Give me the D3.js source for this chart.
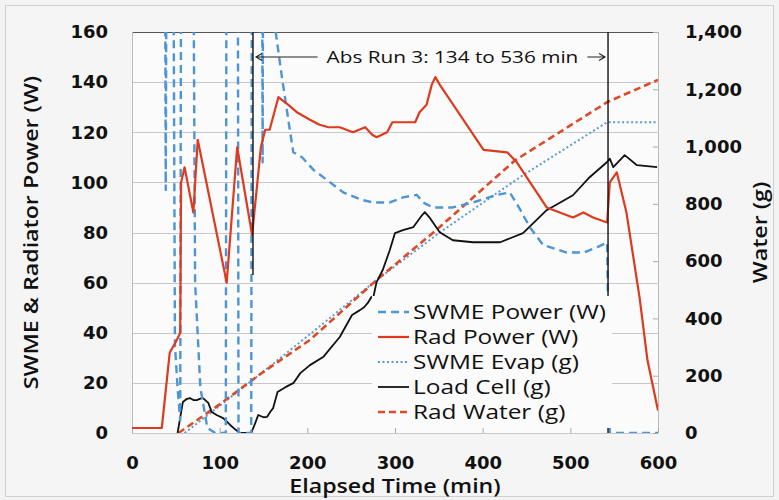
<!DOCTYPE html>
<html>
<head>
<meta charset="utf-8">
<script src="https://cdn.jsdelivr.net/npm/d3@7"></script>
<style>
	body { margin: 0; background: #f3f3f3; }
	svg { display: block; }
	.tick-label { font-family: "DejaVu Sans", sans-serif; font-weight: bold; font-size: 18px; fill: #111; }
	.axis-title { font-family: "Open Sans", sans-serif; font-weight: 600; font-size: 19px; fill: #111; }
	.legend-label { font-family: "Open Sans", sans-serif; font-size: 20px; fill: #111; }
	.note { font-family: "Open Sans", sans-serif; font-size: 17px; fill: #111; }
</style>
</head>
<body>
<svg id="chart" width="779" height="500"></svg>
<script>
// Tick values for each axis
var timeTicks = [0, 100, 200, 300, 400, 500, 600],
	powerTicks = [0, 20, 40, 60, 80, 100, 120, 140, 160],
	waterTicks = [0, 200, 400, 600, 800, 1000, 1200, 1400];

// [minutes, W] -- SWME power runs off the top early on, clipped at 160
var swmePower = [[36, 400], [38.5, 97], [41, 400], [45, 400], [49, 35], [52, 18], [55, 5],
	[57, 400], [67, 400], [72, 60], [78, 18], [86, 2], [95, 0], [107, 0], [108.5, 400],
	[120, 400], [121.5, 0], [136, 0], [137.5, 400], [147, 400], [149, 108], [151, 400],
	[160, 170], [171, 142], [180, 121], [184, 112], [194, 110], [207, 105], [226, 100],
	[241, 96], [262, 93], [275, 92], [294, 92], [309, 94], [325, 95], [332, 92], [343, 90],
	[366, 90], [389, 92], [416, 95], [431, 96], [443, 89], [454, 82], [469, 75], [496, 72],
	[515, 72], [530, 74], [542, 76], [545, 0], [600, 0]];

var radPower = [[0, 2], [34, 2], [43, 32], [51, 37], [55, 40], [56, 100], [60, 106], [70, 88],
	[75, 117], [108, 60], [120, 114], [137, 79], [147, 114], [152, 121], [157, 121], [167, 134],
	[178, 131], [188, 128], [203, 125], [214, 123], [224, 122], [237, 122], [252, 120],
	[266, 122], [274, 119], [279, 118], [291, 120], [297, 124], [306, 124], [323, 124],
	[328, 128], [336, 131], [342, 139], [346, 142], [351, 139], [401, 113], [428, 112],
	[439, 108], [473, 90], [503, 86], [515, 88], [526, 86], [542, 84], [545, 100], [553, 104],
	[564, 88], [579, 54], [588, 29], [600, 9]];

// [minutes, g]
var swmeEvap = [[60, 0], [100, 95], [146, 205], [203, 345], [279, 534], [351, 700],
	[446, 900], [542, 1085], [600, 1085]];

var loadCell = [[51, 0], [52, 0], [58, 108], [62, 118], [66, 122], [70, 115], [74, 115],
	[78, 120], [81, 122], [87, 105], [91, 73], [97, 62], [104, 52], [112, 28], [118, 12],
	[123, 0], [136, 0], [140, 30], [144, 63], [150, 55], [154, 56], [158, 75], [161, 87],
	[166, 143], [175, 160], [184, 174], [192, 209], [203, 237], [218, 265], [237, 335],
	[251, 412], [260, 429], [265, 440], [269, 454], [273, 475], [275, 470], [279, 527],
	[286, 569], [294, 638], [300, 698], [309, 708], [321, 719], [331, 761], [334, 771],
	[340, 750], [351, 701], [366, 673], [389, 666], [420, 666], [446, 698], [473, 778],
	[503, 830], [522, 893], [542, 946], [545, 958], [549, 928], [562, 970], [576, 935],
	[599, 928]];

var radWater = [[53, 0], [100, 100], [146, 205], [203, 325], [279, 534], [351, 719],
	[437, 952], [542, 1155], [600, 1233]];

// Abs Run 3 markers as drawn [minutes, bottom W]
var runMarks = [[138, 63], [543, 0]],
	runLabel = "Abs Run 3:  134 to 536 min";

function drawChart(svgID) {
	var svg = d3.select("#" + svgID),
		left = 132, right = 658, top = 32, bottom = 433,
		stretch = 1.22;

	var x = d3.scaleLinear().domain([0, 600]).range([left, right]),
		yPow = d3.scaleLinear().domain([0, 160]).range([bottom, top]),
		yWat = d3.scaleLinear().domain([0, 1400]).range([bottom, top]);

	// the original's font runs wider than anything installed, so stretch the text
	function widen(selection) {
		selection.each(function() {
			var len = this.getComputedTextLength();
			d3.select(this)
				.attr("textLength", len * stretch)
				.attr("lengthAdjust", "spacingAndGlyphs");
		});
	}

	// outer frame
	svg.append("rect")
		.attr("x", 5.5).attr("y", 5.5)
		.attr("width", 768).attr("height", 491)
		.attr("fill", "#f5f5f5")
		.attr("stroke", "#d0d0d0");

	svg.append("rect")
		.attr("x", left).attr("y", top)
		.attr("width", right - left).attr("height", bottom - top)
		.attr("fill", "#fbfbfb");

	svg.append("clipPath").attr("id", "plot-clip")
	  .append("rect")
		.attr("x", left).attr("y", top)
		.attr("width", right - left).attr("height", bottom - top);

	// --- GRID --- //
	svg.append("g").selectAll("line").data(powerTicks)
		.enter().append("line")
		.attr("x1", left).attr("x2", right)
		.attr("y1", function(d) { return Math.round(yPow(d)) + .5; })
		.attr("y2", function(d) { return Math.round(yPow(d)) + .5; })
		.attr("stroke", function(d) { return d === 160 ? "#555" : "#c8c8cc"; })
		.attr("stroke-width", function(d) { return d === 160 ? 1.2 : 1; });

	svg.append("line")
		.attr("x1", left + .5).attr("x2", left + .5)
		.attr("y1", top).attr("y2", bottom)
		.attr("stroke", "#bbb");
	svg.append("line")
		.attr("x1", right + .5).attr("x2", right + .5)
		.attr("y1", top).attr("y2", bottom)
		.attr("stroke", "#bbb");

	// --- AXES --- //
	var xAxis = d3.axisBottom(x).tickValues(timeTicks).tickSize(-5).tickPadding(23),
		leftAxis = d3.axisLeft(yPow).tickValues(powerTicks).tickSize(0).tickPadding(24),
		rightAxis = d3.axisRight(yWat).tickValues(waterTicks).tickSize(-5).tickPadding(27)
			.tickFormat(d3.format(","));

	[[xAxis, "translate(0," + bottom + ")"], [leftAxis, "translate(" + left + ",0)"],
		[rightAxis, "translate(" + right + ",0)"]].forEach(function(a) {
		var g = svg.append("g").attr("transform", a[1]).call(a[0]);
		g.select(".domain").remove();
		g.selectAll(".tick line").attr("stroke", "#aaa");
		g.selectAll(".tick text").attr("class", "tick-label").attr("fill", null)
			.attr("font-family", null).attr("font-size", null);
	});

	// --- SERIES --- //
	var plot = svg.append("g").attr("clip-path", "url(#plot-clip)");

	var powerLine = d3.line().x(function(d) { return x(d[0]); }).y(function(d) { return yPow(d[1]); }),
		waterLine = d3.line().x(function(d) { return x(d[0]); }).y(function(d) { return yWat(d[1]); });

	var series = [
		{ name: "SWME Power (W)", data: swmePower, line: powerLine, color: "#4f94d4", width: 2.4, dash: "8,5" },
		{ name: "Rad Power (W)", data: radPower, line: powerLine, color: "#dd3a1e", width: 2.2, dash: null },
		{ name: "SWME Evap (g)", data: swmeEvap, line: waterLine, color: "#5a9bd6", width: 2, dash: "2,2.5" },
		{ name: "Load Cell (g)", data: loadCell, line: waterLine, color: "#111", width: 1.8, dash: null },
		{ name: "Rad Water (g)", data: radWater, line: waterLine, color: "#dc4a28", width: 2.6, dash: "7,4" }
	];

	// draw order: water lines first, then power
	[2, 4, 3, 0, 1].forEach(function(i) {
		var s = series[i];
		plot.append("path")
			.attr("d", s.line(s.data))
			.attr("fill", "none")
			.attr("stroke", s.color)
			.attr("stroke-width", s.width)
			.attr("stroke-linejoin", "round")
			.attr("stroke-dasharray", s.dash);
	});

	// --- RUN MARKERS --- //
	plot.selectAll(".run-mark").data(runMarks)
		.enter().append("line")
		.attr("class", "run-mark")
		.attr("x1", function(d) { return x(d[0]); })
		.attr("x2", function(d) { return x(d[0]); })
		.attr("y1", top)
		.attr("y2", function(d) { return yPow(d[1]); })
		.attr("stroke", "#111")
		.attr("stroke-width", 1.4);

	var arrowY = yPow(150),
		noteX = x(222);
	var note = svg.append("text")
		.attr("class", "note")
		.attr("x", noteX).attr("y", arrowY)
		.attr("dy", ".35em")
		.text(runLabel)
		.call(widen);

	var noteEnd = noteX + note.node().getComputedTextLength();
	var arrows = [[noteX - 9, x(runMarks[0][0]) + 3], [noteEnd + 9, x(runMarks[1][0]) - 3]];
	arrows.forEach(function(a) {
		var dir = a[1] > a[0] ? 1 : -1;
		svg.append("path")
			.attr("d", "M" + a[0] + "," + arrowY + "H" + a[1] +
				"M" + (a[1] - dir * 6) + "," + (arrowY - 3.5) + "L" + a[1] + "," + arrowY +
				"L" + (a[1] - dir * 6) + "," + (arrowY + 3.5))
			.attr("fill", "none")
			.attr("stroke", "#222")
			.attr("stroke-width", 1.1);
	});

	// --- LEGEND --- //
	var legend = svg.append("g").attr("transform", "translate(372,296)");
	legend.append("rect")
		.attr("width", 240).attr("height", 132)
		.attr("fill", "#fbfbfb");

	var rows = legend.selectAll(".legend-row").data(series)
		.enter().append("g")
		.attr("class", "legend-row")
		.attr("transform", function(d, i) { return "translate(0," + (16 + i * 25) + ")"; });

	rows.append("line")
		.attr("x1", 6).attr("x2", 37)
		.attr("stroke", function(d) { return d.color; })
		.attr("stroke-width", function(d) { return d.width; })
		.attr("stroke-dasharray", function(d) { return d.dash; });

	rows.append("text")
		.attr("class", "legend-label")
		.attr("x", 41)
		.attr("dy", ".35em")
		.text(function(d) { return d.name; })
		.call(widen);

	// --- AXIS TITLES --- //
	svg.append("text")
		.attr("class", "axis-title")
		.attr("text-anchor", "middle")
		.attr("transform", "translate(38," + ((top + bottom) / 2) + ") rotate(-90)")
		.text("SWME & Radiator Power (W)")
		.call(widen);

	svg.append("text")
		.attr("class", "axis-title")
		.attr("text-anchor", "middle")
		.attr("transform", "translate(767," + ((top + bottom) / 2) + ") rotate(-90)")
		.text("Water (g)")
		.call(widen);

	svg.append("text")
		.attr("class", "axis-title")
		.attr("text-anchor", "middle")
		.attr("x", (left + right) / 2).attr("y", 493)
		.text("Elapsed Time (min)")
		.call(widen);
}

drawChart("chart");
</script>
</body>
</html>
